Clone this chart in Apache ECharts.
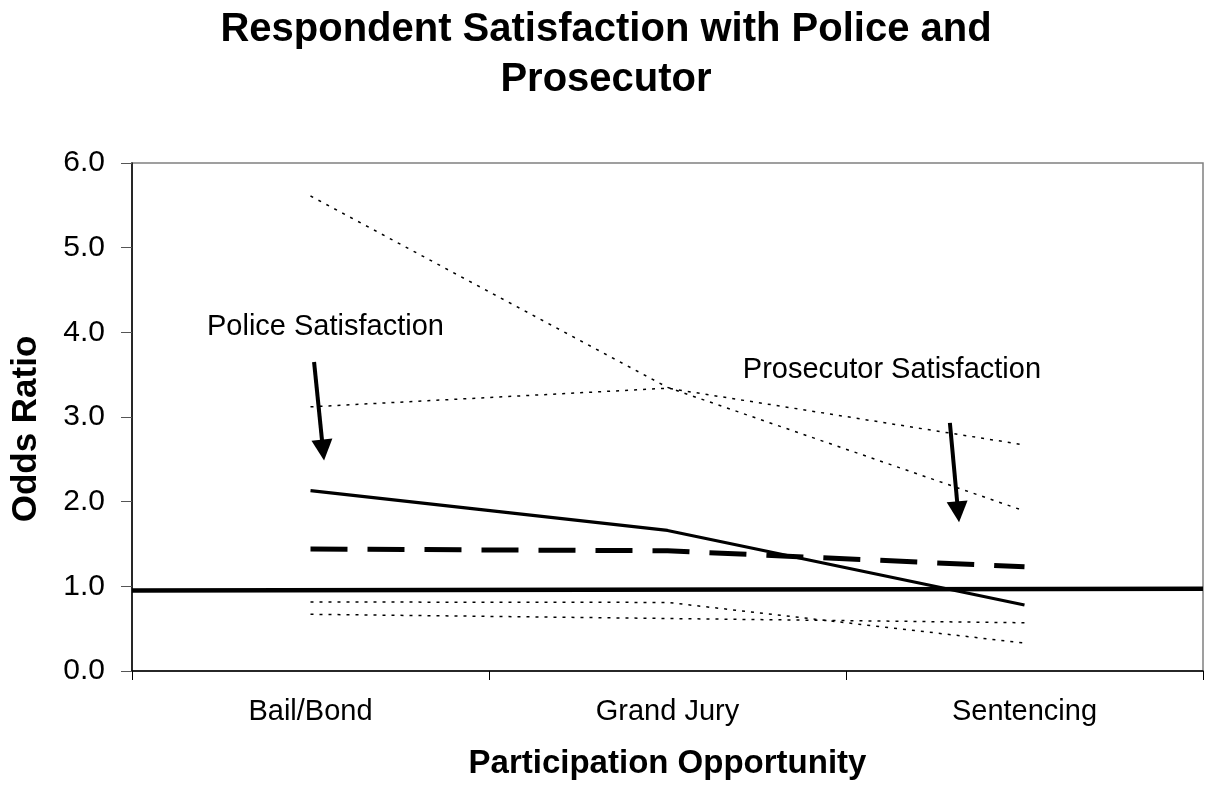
<!DOCTYPE html>
<html>
<head>
<meta charset="utf-8">
<style>
  html, body { margin: 0; padding: 0; background: #ffffff; }
  #chart { width: 1212px; height: 788px; }
</style>
<script src="https://cdn.jsdelivr.net/npm/echarts@6/dist/echarts.min.js"></script>
</head>
<body>
<div id="chart"></div>
<script>
// Participation opportunities (category axis)
const categories = ['Bail/Bond', 'Grand Jury', 'Sentencing'];

// Odds ratios with confidence bounds, police satisfaction
const policeOR = [2.13, 1.66, 0.78];
const policeUpper = [5.61, 3.35, 1.89];
const policeLower = [0.815, 0.81, 0.33];

// Odds ratios with confidence bounds, prosecutor satisfaction
const prosecutorOR = [1.44, 1.42, 1.23];
const prosecutorUpper = [3.12, 3.34, 2.67];
const prosecutorLower = [0.67, 0.62, 0.57];

// Reference line across the full plot width (left edge, right edge)
const referenceLine = [0.95, 0.97];

// Callouts, in data units of the full-width value axis (0..3) and odds ratio
const calloutText = ['Police Satisfaction', 'Prosecutor Satisfaction'];
const calloutAt = [[0.21, 4.06], [1.711, 3.555]];
const policeArrow = [[0.510, 3.65], [0.535, 2.61]];
const prosecutorArrow = [[2.291, 2.93], [2.314, 1.88]];

const FONT = '"Liberation Sans", Arial, Helvetica, sans-serif';

const chart = echarts.init(document.getElementById('chart'), null, { renderer: 'canvas' });

function lineSeries(name, data, width, type) {
  return {
    name: name,
    type: 'line',
    xAxisIndex: 0,
    yAxisIndex: 0,
    data: data,
    symbol: 'none',
    silent: true,
    z: 3,
    lineStyle: { color: '#000000', width: width, type: type, cap: 'butt' }
  };
}

const option = {
  backgroundColor: '#ffffff',
  animation: false,
  title: {
    text: 'Respondent Satisfaction with Police and\nProsecutor',
    left: 'center',
    top: 0,
    textStyle: {
      fontFamily: FONT,
      fontSize: 40,
      fontWeight: 'bold',
      color: '#000000',
      lineHeight: 50
    }
  },
  grid: {
    left: 132,
    right: 9,
    top: 163,
    bottom: 117,
    show: true,
    borderColor: '#808080',
    borderWidth: 1.5,
    backgroundColor: '#ffffff'
  },
  xAxis: [
    {
      type: 'category',
      data: categories,
      boundaryGap: true,
      name: 'Participation Opportunity',
      nameLocation: 'middle',
      nameGap: 76,
      nameTextStyle: { fontFamily: FONT, fontSize: 33, fontWeight: 'bold', color: '#000000' },
      axisLine: { show: true, lineStyle: { color: '#000000', width: 1.5 } },
      axisTick: { show: true, inside: false, length: 9, lineStyle: { color: '#000000', width: 1 } },
      axisLabel: { fontFamily: FONT, fontSize: 29, color: '#000000', margin: 26 },
      splitLine: { show: false }
    },
    {
      type: 'value',
      min: 0,
      max: 3,
      show: false
    }
  ],
  yAxis: {
    type: 'value',
    min: 0,
    max: 6,
    interval: 1,
    name: 'Odds Ratio',
    nameLocation: 'middle',
    nameGap: 88,
    nameRotate: 90,
    nameTextStyle: {
      fontFamily: FONT, fontSize: 35, fontWeight: 'bold', color: '#000000',
      padding: [0, 24, 0, 0]
    },
    axisLine: { show: true, lineStyle: { color: '#000000', width: 1.5 } },
    axisTick: { show: true, inside: false, length: 11, lineStyle: { color: '#555555', width: 1 } },
    axisLabel: {
      fontFamily: FONT, fontSize: 30, color: '#000000', margin: 27,
      formatter: function (v) { return v.toFixed(1); }
    },
    splitLine: { show: false }
  },
  series: [
    lineSeries('Police upper bound', policeUpper, 1.5, [3, 6]),
    lineSeries('Police lower bound', policeLower, 1.5, [3, 6]),
    lineSeries('Prosecutor upper bound', prosecutorUpper, 1.5, [3, 6]),
    lineSeries('Prosecutor lower bound', prosecutorLower, 1.5, [3, 6]),
    lineSeries('Police odds ratio', policeOR, 3.2, 'solid'),
    lineSeries('Prosecutor odds ratio', prosecutorOR, 5, [37, 20]),
    {
      name: 'Reference',
      type: 'line',
      xAxisIndex: 1,
      yAxisIndex: 0,
      data: [[0, referenceLine[0]], [3, referenceLine[1]]],
      symbol: 'none',
      silent: true,
      z: 4,
      lineStyle: { color: '#000000', width: 4.5, type: 'solid', cap: 'butt' }
    },
    {
      name: 'Callout arrows',
      type: 'lines',
      coordinateSystem: 'cartesian2d',
      xAxisIndex: 1,
      yAxisIndex: 0,
      silent: true,
      z: 5,
      symbol: ['none', 'triangle'],
      symbolSize: 21,
      lineStyle: { color: '#000000', width: 4, opacity: 1, curveness: 0 },
      itemStyle: { color: '#000000' },
      data: [
        { coords: policeArrow },
        { coords: prosecutorArrow }
      ]
    }
  ]
};

chart.setOption(option);

// Callout texts placed through the value axis
const graphics = calloutText.map(function (t, i) {
  const p = chart.convertToPixel({ xAxisIndex: 1, yAxisIndex: 0 }, calloutAt[i]);
  return {
    type: 'text',
    x: p[0],
    y: p[1],
    z: 10,
    silent: true,
    style: {
      text: t,
      fontFamily: FONT,
      fontSize: 29,
      fill: '#000000',
      align: 'left',
      verticalAlign: 'middle'
    }
  };
});
chart.setOption({ graphic: graphics });
</script>
</body>
</html>
